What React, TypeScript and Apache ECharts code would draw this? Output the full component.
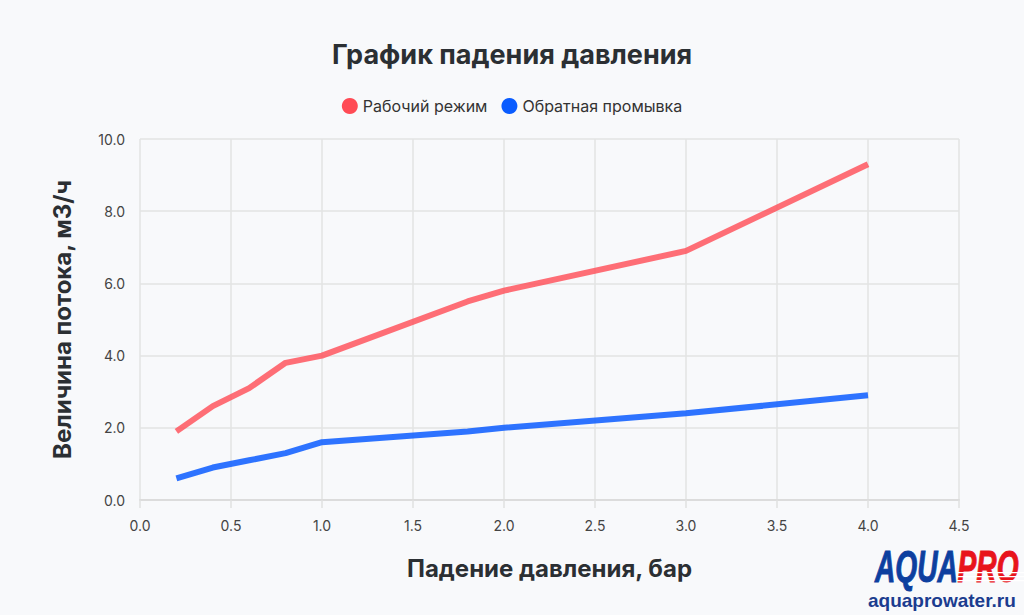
import React, { useEffect, useRef } from "react";
import * as echarts from "echarts";

const TITLE = "График падения давления";
const X_NAME = "Падение давления, бар";
const Y_NAME = "Величина потока, м3/ч";
const SERIES_NAMES = ["Рабочий режим", "Обратная промывка"];

const workX = [0.2, 0.4, 0.6, 0.8, 1.0, 1.8, 2.0, 3.0, 4.0];
const workY = [1.9, 2.6, 3.1, 3.8, 4.0, 5.5, 5.8, 6.9, 9.3];

const washX = [0.2, 0.4, 0.6, 0.8, 1.0, 1.8, 2.0, 3.0, 4.0];
const washY = [0.6, 0.9, 1.1, 1.3, 1.6, 1.9, 2.0, 2.4, 2.9];

const BG = "#f8f9fb";

export default function App() {
  const ref = useRef<HTMLDivElement>(null);

  useEffect(() => {
    if (!ref.current) return;
    document.body.style.margin = "0";
    document.body.style.background = BG;
    const chart = echarts.init(ref.current, undefined, { renderer: "svg" });
    const font = "Inter, Roboto, 'Liberation Sans', Arial, sans-serif";
    chart.setOption({
      animation: false,
      backgroundColor: BG,
      textStyle: { fontFamily: font },
      title: {
        text: TITLE,
        left: "center",
        top: 36,
        textStyle: { fontSize: 27, fontWeight: "bold", color: "#2b2f33", fontFamily: font },
      },
      legend: {
        top: 93,
        left: "center",
        icon: "circle",
        itemWidth: 16,
        itemHeight: 16,
        itemGap: 14,
        itemTextGap: 6,
        textStyle: { fontSize: 16, color: "#333", fontFamily: font },
        data: SERIES_NAMES,
      },
      grid: { left: 140, right: 65, top: 139, bottom: 115 },
      xAxis: {
        type: "value",
        min: 0,
        max: 4.5,
        interval: 0.5,
        name: X_NAME,
        nameLocation: "middle",
        nameGap: 56,
        nameTextStyle: { fontSize: 24, fontWeight: "bold", color: "#2b2f33" },
        axisLine: { show: true, lineStyle: { color: "#dcdcdc", width: 2 } },
        axisTick: { show: true, length: 8, lineStyle: { color: "#e0e0e0", width: 1.5 } },
        axisLabel: { fontSize: 14, color: "#444", margin: 18, formatter: (v: number) => v.toFixed(1) },
        splitLine: { show: true, lineStyle: { color: "#e3e3e3", width: 1.5 } },
      },
      yAxis: {
        type: "value",
        min: 0,
        max: 10,
        interval: 2,
        name: Y_NAME,
        nameLocation: "middle",
        nameGap: 66,
        nameTextStyle: { fontSize: 24, fontWeight: "bold", color: "#2b2f33" },
        axisLine: { show: false },
        axisTick: { show: false },
        axisLabel: { fontSize: 14, color: "#444", margin: 15, formatter: (v: number) => v.toFixed(1) },
        splitLine: { show: true, lineStyle: { color: "#e3e3e3", width: 1.5 } },
      },
      series: [
        {
          name: SERIES_NAMES[0],
          type: "line",
          data: workX.map((x, i) => [x, workY[i]]),
          showSymbol: false,
          symbol: "none",
          itemStyle: { color: "#ff4b55" },
          lineStyle: { color: "#ff4b55", width: 6, opacity: 0.8 },
        },
        {
          name: SERIES_NAMES[1],
          type: "line",
          data: washX.map((x, i) => [x, washY[i]]),
          showSymbol: false,
          symbol: "none",
          itemStyle: { color: "#0a5cff" },
          lineStyle: { color: "#0a5cff", width: 6, opacity: 0.85 },
        },
      ],
      graphic: [
        {
          type: "group",
          x: 875,
          y: 545,
          scaleX: 0.64,
          children: [
            {
              type: "text",
              x: 0,
              y: 0,
              style: {
                text: "AQUA",
                font: "italic bold 44px 'Liberation Sans', Arial, sans-serif",
                fill: "#0d3f9f",
                stroke: "#0d3f9f",
                lineWidth: 1,
                textVerticalAlign: "top",
              },
            },
            {
              type: "text",
              x: 129,
              y: 0,
              style: {
                text: "PRO",
                font: "italic bold 44px 'Liberation Sans', Arial, sans-serif",
                fill: "#e8141b",
                stroke: "#e8141b",
                lineWidth: 1,
                textVerticalAlign: "top",
              },
            },
          ],
        },
        { type: "rect", shape: { x: 957, y: 572, width: 67, height: 1.2 }, style: { fill: "#ffffff" } },
        { type: "rect", shape: { x: 957, y: 576, width: 67, height: 1.2 }, style: { fill: "#ffffff" } },
        { type: "rect", shape: { x: 957, y: 580, width: 67, height: 1.2 }, style: { fill: "#ffffff" } },
        {
          type: "text",
          x: 868,
          y: 600,
          style: {
            text: "aquaprowater.ru",
            font: "bold 19px 'Liberation Sans', Arial, sans-serif",
            fill: "#1b3c8f",
            textVerticalAlign: "middle",
          },
        },
      ],
    });
    return () => chart.dispose();
  }, []);

  return (
    <div style={{ position: "fixed", left: 0, top: 0, width: 1024, height: 615, background: BG }}>
      <div ref={ref} style={{ width: 1024, height: 615 }} />
    </div>
  );
}
